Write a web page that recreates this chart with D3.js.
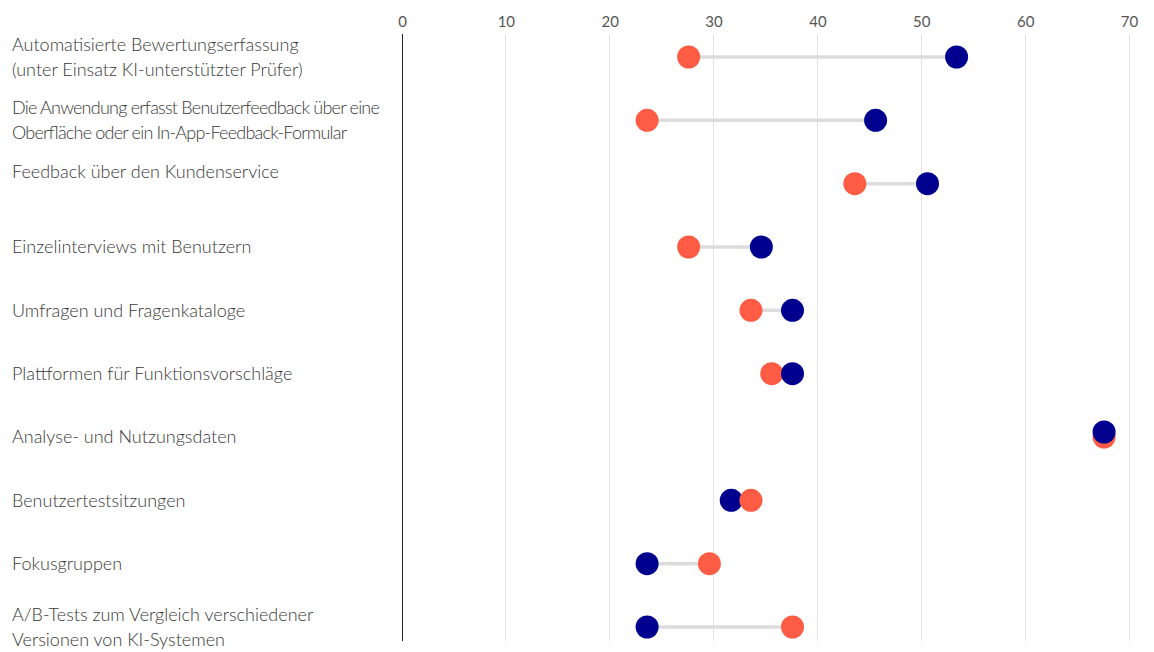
<!DOCTYPE html>
<html>
<head>
<meta charset="utf-8">
<script src="https://cdn.jsdelivr.net/npm/d3@7"></script>
<style>
  html, body { margin: 0; padding: 0; background: #fff; }
  svg { display: block; }
  text { font-family: Lato, "Open Sans", sans-serif; }
</style>
</head>
<body>
<svg id="chart" width="1154" height="652"></svg>
<script>
// Row labels (each entry is a list of lines)
const categories = [
  ["Automatisierte Bewertungserfassung", "(unter Einsatz KI-unterstützter Prüfer)"],
  ["Die Anwendung erfasst Benutzerfeedback über eine", "Oberfläche oder ein In-App-Feedback-Formular"],
  ["Feedback über den Kundenservice", ""],
  ["Einzelinterviews mit Benutzern"],
  ["Umfragen und Fragenkataloge"],
  ["Plattformen für Funktionsvorschläge"],
  ["Analyse- und Nutzungsdaten"],
  ["Benutzertestsitzungen"],
  ["Fokusgruppen"],
  ["A/B-Tests zum Vergleich verschiedener", "Versionen von KI-Systemen"]
];

// Two series per row
const orangeValues = [27.6, 23.6, 43.6, 27.6, 33.6, 35.6, 67.6, 33.6, 29.6, 37.6];
const navyValues   = [53.4, 45.6, 50.6, 34.6, 37.6, 37.6, 67.6, 31.7, 23.6, 23.6];

const tickValues = [0, 10, 20, 30, 40, 50, 60, 70];

const ORANGE = "#ff5c45";
const NAVY = "#00008f";

const svg = d3.select("#chart");

const x = d3.scaleLinear().domain([0, 70]).range([402, 1129]);
const rowKeys = categories.map((d, i) => i);
const y = d3.scalePoint().domain(rowKeys).range([57, 627]);

const gridTop = 34, gridBottom = 641;
const labelMaxWidth = 372;

// Tick labels via a top axis
const axis = d3.axisTop(x).tickValues(tickValues).tickSize(0).tickPadding(0);
const gAxis = svg.append("g").attr("transform", "translate(0,27)").call(axis);
gAxis.select(".domain").remove();
gAxis.selectAll("text")
  .attr("fill", "#555")
  .attr("font-size", 15)
  .attr("font-family", "Lato, 'Open Sans', sans-serif");

// Vertical grid lines, zero line in dark
svg.append("g").selectAll("line")
  .data(tickValues)
  .join("line")
  .attr("x1", d => x(d)).attr("x2", d => x(d))
  .attr("y1", gridTop).attr("y2", gridBottom)
  .attr("stroke", d => d === 0 ? "#222" : "#e2e2e2")
  .attr("stroke-width", 1)
  .attr("shape-rendering", "crispEdges");

// Row labels; lines in a block that overflows the label column are tightened
const labels = svg.append("g").selectAll("text")
  .data(categories)
  .join("text")
  .attr("x", 12)
  .attr("fill", "#383838")
  .attr("font-size", 18)
  .attr("font-weight", 300);

labels.each(function(lines, i) {
  const cy = y(i);
  const lh = 24.5;
  const start = cy - (lines.length - 1) * lh / 2;
  const spans = d3.select(this).selectAll("tspan")
    .data(lines)
    .join("tspan")
    .attr("x", 12)
    .attr("y", (d, j) => start + j * lh)
    .attr("dy", "0.35em")
    .text(d => d);
  const widths = spans.nodes().map(n => n.getComputedTextLength());
  if (d3.max(widths) > labelMaxWidth) {
    spans.each(function(d, j) {
      d3.select(this)
        .attr("textLength", widths[j] * 0.91)
        .attr("lengthAdjust", "spacing");
    });
  }
});

// Rows: connector, then smaller-value dot, then larger-value dot on top
const rows = rowKeys.map(i => {
  const o = orangeValues[i], n = navyValues[i];
  const tie = Math.abs(o - n) < 0.3;
  const dots = [
    { value: o, color: ORANGE, dy: 0, order: o > n ? 1 : 0 },
    { value: n, color: NAVY, dy: tie ? -5 : 0, order: n >= o ? 1 : 0 }
  ].sort((a, b) => a.order - b.order);
  return { i, o, n, dots };
});

const gRows = svg.append("g").selectAll("g")
  .data(rows)
  .join("g")
  .attr("transform", d => `translate(0,${y(d.i)})`);

gRows.append("line")
  .attr("x1", d => x(Math.min(d.o, d.n)))
  .attr("x2", d => x(Math.max(d.o, d.n)))
  .attr("y1", 0).attr("y2", 0)
  .attr("stroke", "#dcdcdc")
  .attr("stroke-width", 3.5);

gRows.selectAll("circle")
  .data(d => d.dots)
  .join("circle")
  .attr("cx", d => x(d.value))
  .attr("cy", d => d.dy)
  .attr("r", 11.5)
  .attr("fill", d => d.color);
</script>
</body>
</html>
